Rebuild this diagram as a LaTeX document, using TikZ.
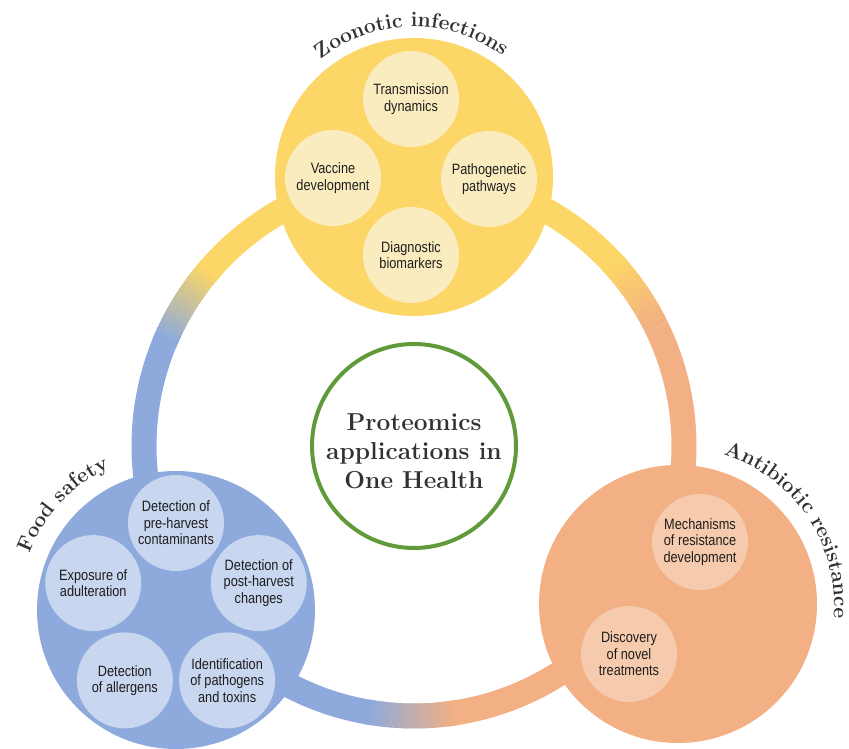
\documentclass[tikz,border=0pt]{standalone}
\usepackage{fontspec}
\newfontfamily\narrowfont[FakeStretch=0.85]{Liberation Sans}
\newfontfamily\lblface[FakeBold=0.6]{Latin Modern Roman}
\usetikzlibrary{decorations.text}
\definecolor{zyellow}{RGB}{252,214,102}
\definecolor{zyellowl}{RGB}{251,236,192}
\definecolor{zblue}{RGB}{142,170,221}
\definecolor{zbluel}{RGB}{200,214,240}
\definecolor{zorange}{RGB}{242,176,132}
\definecolor{zorangel}{RGB}{246,202,172}
\definecolor{zgreen}{RGB}{96,154,58}
\definecolor{txtdark}{RGB}{30,30,30}
\definecolor{titlegray}{RGB}{50,50,50}
\newcommand{\lblfont}{\bfseries\fontsize{21}{25}\selectfont}
\begin{document}
\begin{tikzpicture}[x=1pt,y=1pt,
  bigc/.style={circle, inner sep=0pt, minimum size=278pt},
  subc/.style={circle, inner sep=0pt, minimum size=96pt, align=center,
    text=txtdark, font=\narrowfont\fontsize{15}{16.5}\selectfont},
  ringseg/.style={line width=25pt},
  arclabel/.style={decorate, decoration={text along path, text align=center,
    text color=titlegray, text={|\lblfont|#1}}}
]
\useasboundingbox (0,0) rectangle (849,749);
\coordinate (rc) at (414,303);
% ring solid parts
\draw[ringseg, zyellow] ([shift={(40:270)}]rc) arc[start angle=40, end angle=140, radius=270];
\draw[ringseg, zblue] ([shift={(155:270)}]rc) arc[start angle=155, end angle=261, radius=270];
\draw[ringseg, zorange] ([shift={(277:270)}]rc) arc[start angle=277, end angle=386, radius=270];
% transitions
\foreach \i in {0,...,17} {
  \pgfmathsetmacro\a{139+\i}
  \pgfmathsetmacro\b{\a+1.5}
  \pgfmathsetmacro\p{\i*100/17}
  \draw[ringseg, color=zblue!\p!zyellow] ([shift={(\a:270)}]rc) arc[start angle=\a, end angle=\b, radius=270];
}
\foreach \i in {0,...,18} {
  \pgfmathsetmacro\a{260+\i}
  \pgfmathsetmacro\b{\a+1.5}
  \pgfmathsetmacro\p{\i*100/18}
  \draw[ringseg, color=zorange!\p!zblue] ([shift={(\a:270)}]rc) arc[start angle=\a, end angle=\b, radius=270];
}
\foreach \i in {0,...,16} {
  \pgfmathsetmacro\a{26+\i}
  \pgfmathsetmacro\b{\a+1.5}
  \pgfmathsetmacro\p{\i*100/16}
  \draw[ringseg, color=zyellow!\p!zorange] ([shift={(\a:270)}]rc) arc[start angle=\a, end angle=\b, radius=270];
}
% big circles
\node[bigc, fill=zyellow] (Z) at (414,572) {};
\node[bigc, fill=zblue] (F) at (176,139) {};
\node[bigc, fill=zorange] (A) at (678,145) {};
% centre
\node[circle, draw=zgreen, line width=4pt, inner sep=0pt, minimum size=204pt] (C) at (rc) {};
\node[align=center, text=titlegray, font=\bfseries\fontsize{24.5}{29}\selectfont]
  (T) at ([yshift=-5pt]C.center) {Proteomics\\applications in\\One Health};
% arc labels
\begingroup
\lblfont
\path[arclabel={Zoonotic infections}] ([shift={(150:150)}]Z.center) arc[start angle=150, end angle=32, radius=150];
\path[arclabel={Food safety}] ([shift={(197:157)}]F.center) arc[start angle=197, end angle=77, radius=157];
\path[arclabel={Antibiotic resistance}] ([shift={(94:156)}]A.center) arc[start angle=94, end angle=-26, radius=156];
\endgroup
% sub circles: zoonotic
\node[subc, fill=zyellowl] (z1) at (411,650) {Transmission\\dynamics};
\node[subc, fill=zyellowl] (z2) at (333,571) {Vaccine\\development};
\node[subc, fill=zyellowl] (z3) at (489,570) {Pathogenetic\\pathways};
\node[subc, fill=zyellowl] (z4) at (411,494) {Diagnostic\\biomarkers};
% food safety
\node[subc, fill=zbluel] (f1) at ([shift={(90:87)}]F.center) {Detection of\\pre-harvest\\contaminants};
\node[subc, fill=zbluel] (f2) at ([shift={(162:87)}]F.center) {Exposure of\\adulteration};
\node[subc, fill=zbluel] (f3) at ([shift={(18:87)}]F.center) {Detection of\\post-harvest\\changes};
\node[subc, fill=zbluel] (f4) at ([shift={(234:87)}]F.center) {Detection\\of allergens};
\node[subc, fill=zbluel] (f5) at ([shift={(306:87)}]F.center) {Identification\\of pathogens\\and toxins};
% antibiotic
\node[subc, fill=zorangel] (a1) at (700,207) {Mechanisms\\of resistance\\development};
\node[subc, fill=zorangel] (a2) at (629,95) {Discovery\\of novel\\treatments};
\end{tikzpicture}
\end{document}
